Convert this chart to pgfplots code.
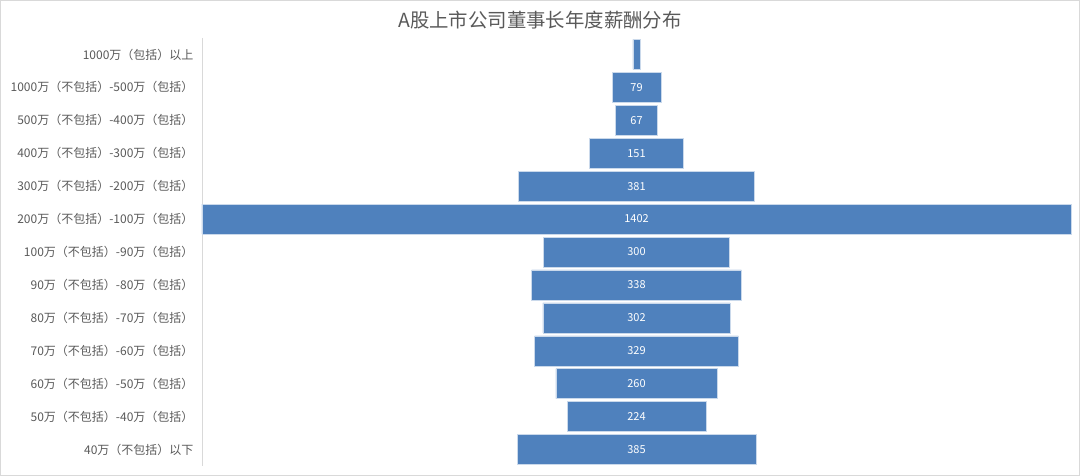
\documentclass[border=0pt]{standalone}
\usepackage{pgfplots}
\pgfplotsset{compat=1.18}
\usepackage{pgfplotstable}
\usepackage{fontspec}
\setmainfont{Noto Sans CJK SC}
\definecolor{barblue}{HTML}{4F81BD}
\definecolor{txtgray}{HTML}{595959}
\definecolor{linegray}{HTML}{D9D9D9}

% chairman pay, number of companies per band (top to bottom)
\pgfplotstableread{
idx v
0 12
1 79
2 67
3 151
4 381
5 1402
6 300
7 338
8 302
9 329
10 260
11 224
12 385
}\salary

\pgfplotsset{chartbox/.style={
  at={(0,0)}, anchor=south west,
  scale only axis, width=869pt, height=428pt,
  xmin=0, xmax=1402, ymin=-0.5, ymax=12.5,
  y dir=reverse, clip=false}}

\begin{document}
\begin{tikzpicture}[x=1pt,y=1pt]
\useasboundingbox (-202,-10) rectangle (878,466);
\draw[linegray] (-201.5,-9.5) rectangle (877.5,465.5);
\node[txtgray, font=\fontsize{19.4}{21}\selectfont] at (338,446) {A股上市公司董事长年度薪酬分布};
\begin{axis}[
  chartbox,
  xbar stacked, bar width=30pt,
  hide x axis,
  axis y line=left,
  axis line style={-, draw=linegray, line width=0.8pt},
  major tick length=0pt,
  ytick={0,...,12},
  yticklabels={
    {1000万（包括）以上},
    {1000万（不包括）-500万（包括）},
    {500万（不包括）-400万（包括）},
    {400万（不包括）-300万（包括）},
    {300万（不包括）-200万（包括）},
    {200万（不包括）-100万（包括）},
    {100万（不包括）-90万（包括）},
    {90万（不包括）-80万（包括）},
    {80万（不包括）-70万（包括）},
    {70万（不包括）-60万（包括）},
    {60万（不包括）-50万（包括）},
    {50万（不包括）-40万（包括）},
    {40万（不包括）以下}},
  yticklabel style={txtgray, font=\fontsize{12}{13}\selectfont, xshift=-5pt},
]
% invisible offset that centres each bar
\addplot[draw=none, fill=none]
  table[x expr=(1402-\thisrow{v})/2, y=idx]{\salary};
% the bar itself
\addplot[fill=barblue, draw=white!70!barblue, line width=0.5pt]
  table[x=v, y=idx]{\salary};
\end{axis}
% values, written at the middle of each bar
\begin{axis}[chartbox, hide axis]
\addplot[draw=none, mark=none, nodes near coords, point meta=explicit symbolic,
  nodes near coords style={text=white, anchor=center, font=\fontsize{11}{12}\selectfont},
  skip coords between index={0}{1}]
  table[x expr=701, y=idx, meta=v]{\salary};
\end{axis}
\end{tikzpicture}
\end{document}
